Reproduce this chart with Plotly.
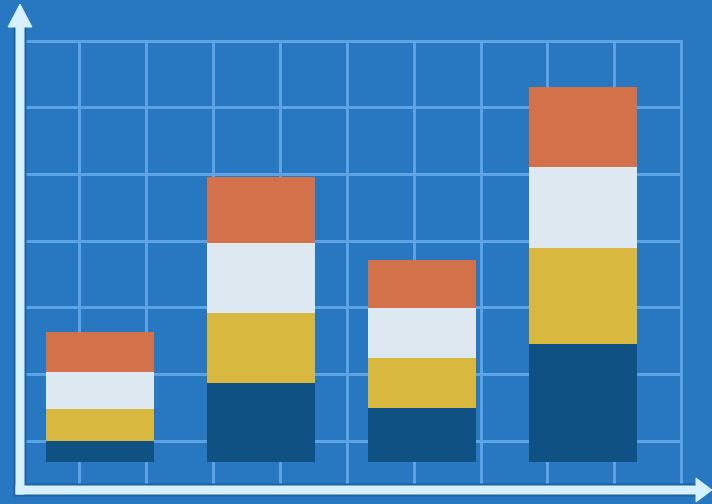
import plotly.graph_objects as go

# ---- data ----
categories = ["A", "B", "C", "D"]
series_names = ["Base", "Second", "Third", "Top"]
base_vals = [3.1, 11.8, 8.1, 17.7]
second_vals = [4.9, 10.5, 7.5, 14.4]
third_vals = [5.5, 10.5, 7.5, 12.1]
top_vals = [6.0, 10.0, 7.2, 12.0]

colors = ["#0f5183", "#d9b83f", "#dde8f1", "#d3714b"]
BG = "#2878c1"
GRID = "#5da2e2"
AXIS = "#d6f0fc"

W, H = 712, 504


def px(x):
    return x / W


def py(y):
    return 1 - y / H


fig = go.Figure()
for name, vals, col in zip(series_names, [base_vals, second_vals, third_vals, top_vals], colors):
    fig.add_trace(go.Bar(x=categories, y=vals, name=name, marker=dict(color=col, line=dict(width=0)),
                         hoverinfo="skip"))

# invisible helper trace so the grid axis is rendered
fig.add_trace(go.Scatter(x=[0], y=[0], xaxis="x2", yaxis="y", mode="markers",
                         marker=dict(opacity=0), showlegend=False, hoverinfo="skip"))

shapes = []
# dark halo under axes
shapes.append(dict(type="line", xref="paper", yref="paper", x0=px(20), x1=px(20), y0=py(496), y1=py(24),
                   line=dict(color="#1d62a3", width=13), layer="above"))
shapes.append(dict(type="line", xref="paper", yref="paper", x0=px(14), x1=px(698), y0=py(490), y1=py(490),
                   line=dict(color="#1d62a3", width=13), layer="above"))
# y-axis arrow
shapes.append(dict(type="line", xref="paper", yref="paper", x0=px(20), x1=px(20), y0=py(494.5), y1=py(24),
                   line=dict(color=AXIS, width=9), layer="above"))
shapes.append(dict(type="path", xref="paper", yref="paper",
                   path=f"M {px(20)},{py(4)} L {px(32)},{py(27)} L {px(8)},{py(27)} Z",
                   fillcolor=AXIS, line=dict(color=AXIS, width=1), layer="above"))
# x-axis arrow
shapes.append(dict(type="line", xref="paper", yref="paper", x0=px(15.5), x1=px(698), y0=py(490), y1=py(490),
                   line=dict(color=AXIS, width=9), layer="above"))
shapes.append(dict(type="path", xref="paper", yref="paper",
                   path=f"M {px(712)},{py(490)} L {px(696)},{py(478)} L {px(696)},{py(502)} Z",
                   fillcolor=AXIS, line=dict(color=AXIS, width=1), layer="above"))

fig.update_layout(
    width=W, height=H,
    margin=dict(l=0, r=0, t=0, b=0),
    paper_bgcolor=BG, plot_bgcolor=BG,
    barmode="stack", bargap=0.33,
    showlegend=False,
    xaxis=dict(domain=[px(20), px(683)], range=[-0.497, 3.621], showgrid=False, showticklabels=False,
               ticks="", zeroline=False, showline=False, fixedrange=True),
    xaxis2=dict(domain=[px(20), px(683)], overlaying="x", range=[-0.896, 9.02], tick0=0, dtick=1,
                showgrid=True, gridcolor=GRID, gridwidth=3, showticklabels=False, ticks="",
                zeroline=False, showline=False, anchor="y", fixedrange=True),
    yaxis=dict(domain=[py(490), py(40)], range=[-4.19, 63.3], tick0=3.14, dtick=10,
               showgrid=True, gridcolor=GRID, gridwidth=3, showticklabels=False, ticks="",
               zeroline=False, showline=False, fixedrange=True),
    shapes=shapes,
)

fig.write_html("out.html")
